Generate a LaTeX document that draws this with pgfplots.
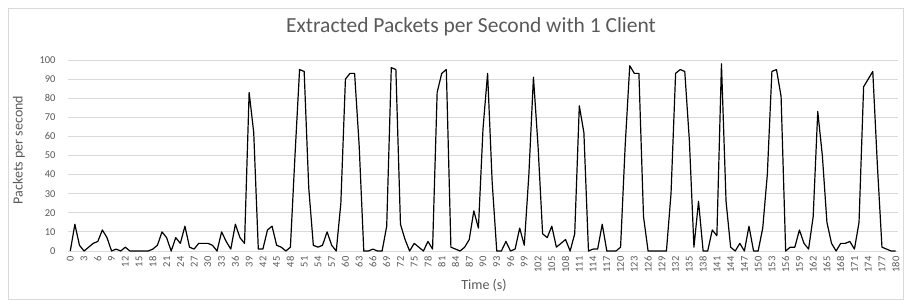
\documentclass[border=0pt]{standalone}
\usepackage{pgfplots}
\pgfplotsset{compat=1.18}
\usepackage{fontspec}
\setmainfont{Carlito}
\definecolor{txtgray}{HTML}{595959}
\definecolor{gridgray}{HTML}{D9D9D9}
\begin{document}
\begin{tikzpicture}[x=1pt,y=1pt]
\useasboundingbox (0,0) rectangle (904,305);
\draw[gridgray, line width=0.8pt] (8,6) rectangle (903.5,297);
\begin{axis}[
  at={(68pt,54pt)}, anchor=south west,
  scale only axis, width=830pt, height=191pt,
  xmin=-0.5, xmax=180.5, ymin=0, ymax=100,
  xtick={0,3,...,180}, ytick={0,10,...,100},
  ymajorgrids, grid style={gridgray, line width=0.8pt},
  axis x line*=bottom, axis y line*=left,
  x axis line style={gridgray, line width=0.8pt},
  y axis line style={draw=none},
  major tick length=0pt,
  /pgf/number format/assume math mode=true,
  tick label style={font=\fontsize{10.5}{12}\selectfont, text=txtgray},
  x tick label style={rotate=90, anchor=east},
  xticklabel shift=2pt,
  yticklabel shift=9pt,
  clip=false,
]
\addplot[black, line width=1.2pt, line join=round] coordinates {
(0,0) (1,14) (2,3) (3,0) (4,2) (5,4) (6,5) (7,11) (8,7) (9,0)
(10,1) (11,0) (12,2) (13,0) (14,0) (15,0) (16,0) (17,0) (18,1) (19,3)
(20,10) (21,7) (22,0) (23,7) (24,4) (25,13) (26,2) (27,1) (28,4) (29,4)
(30,4) (31,3) (32,0) (33,10) (34,5) (35,1) (36,14) (37,7) (38,4) (39,83)
(40,62) (41,1) (42,1) (43,11) (44,13) (45,3) (46,2) (47,0) (48,2) (49,50)
(50,95) (51,94) (52,33) (53,3) (54,2) (55,3) (56,10) (57,3) (58,0) (59,25)
(60,90) (61,93) (62,93) (63,55) (64,0) (65,0) (66,1) (67,0) (68,0) (69,13)
(70,96) (71,95) (72,14) (73,6) (74,0) (75,4) (76,2) (77,0) (78,5) (79,1)
(80,83) (81,93) (82,95) (83,2) (84,1) (85,0) (86,2) (87,6) (88,21) (89,12)
(90,64) (91,93) (92,36) (93,0) (94,0) (95,5) (96,0) (97,1) (98,12) (99,3)
(100,40) (101,91) (102,55) (103,9) (104,7) (105,13) (106,2) (107,4) (108,6) (109,0)
(110,9) (111,76) (112,62) (113,0) (114,1) (115,1) (116,14) (117,0) (118,0) (119,0)
(120,2) (121,55) (122,97) (123,93) (124,93) (125,18) (126,0) (127,0) (128,0) (129,0)
(130,0) (131,30) (132,93) (133,95) (134,94) (135,58) (136,2) (137,26) (138,0) (139,0)
(140,11) (141,8) (142,98) (143,26) (144,2) (145,0) (146,4) (147,0) (148,13) (149,0)
(150,0) (151,12) (152,40) (153,94) (154,95) (155,81) (156,0) (157,2) (158,2) (159,11)
(160,4) (161,1) (162,18) (163,73) (164,50) (165,15) (166,4) (167,0) (168,4) (169,4)
(170,5) (171,1) (172,15) (173,86) (174,90) (175,94) (176,45) (177,2) (178,1) (179,0)
(180,0)
};
\end{axis}
\node[text=txtgray, font=\fontsize{21.5}{24}\selectfont] at (471,278) {Extracted Packets per Second with 1 Client};
\node[text=txtgray, font=\fontsize{14}{16}\selectfont] at (484,20) {Time (s)};
\node[text=txtgray, font=\fontsize{14}{16}\selectfont, rotate=90] at (19,155) {Packets per second};
\end{tikzpicture}
\end{document}
